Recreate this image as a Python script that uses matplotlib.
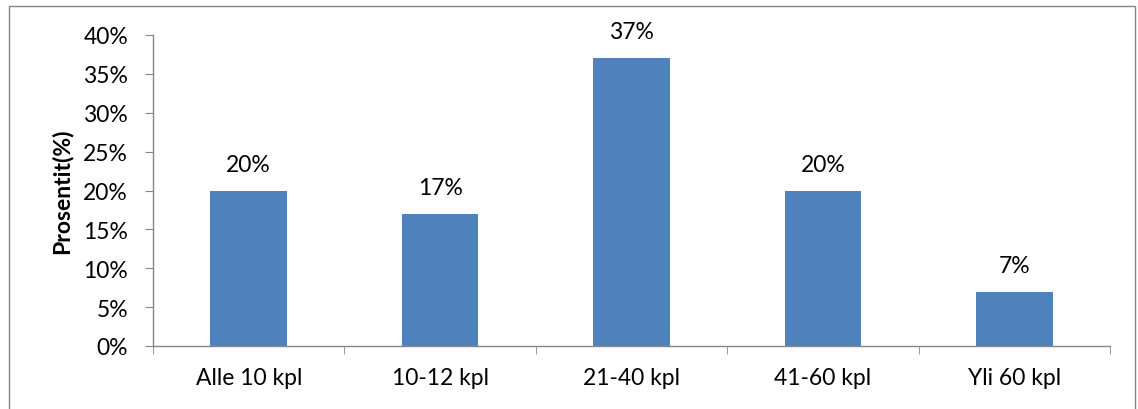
import matplotlib.pyplot as plt
from matplotlib.patches import Rectangle
from matplotlib.ticker import FixedLocator, PercentFormatter

categories = ["Alle 10 kpl", "10-12 kpl", "21-40 kpl", "41-60 kpl", "Yli 60 kpl"]
values = [20, 17, 37, 20, 7]
y_label = "Prosentit(%)"

BAR_COLOR = "#4F81BD"
AXIS_COLOR = "#868686"
FS = 16.5

plt.rcParams["font.family"] = ["Lato", "DejaVu Sans"]

fig = plt.figure(figsize=(11.38, 4.10), dpi=100)
ax = fig.add_axes([153 / 1138, 63 / 410, (1110 - 153) / 1138, (347 - 36) / 410])

x = list(range(len(categories)))
ax.bar(x, values, width=0.4, color=BAR_COLOR, zorder=2)

for xi, v in zip(x, values):
    ax.text(xi, v + 3.4, f"{v}%", ha="center", va="center", fontsize=FS, color="black")

ax.set_xlim(-0.5, len(categories) - 0.5)
ax.set_ylim(0, 40)
ax.set_yticks(range(0, 41, 5))
ax.yaxis.set_major_formatter(PercentFormatter(decimals=0))

# category labels in the middle, tick marks on the boundaries
ax.set_xticks(x)
ax.set_xticklabels(categories, fontsize=FS)
ax.tick_params(axis="x", which="major", length=0, pad=15)
ax.xaxis.set_minor_locator(FixedLocator([i - 0.5 for i in range(len(categories) + 1)]))
ax.tick_params(axis="x", which="minor", length=6, color=AXIS_COLOR, direction="out")
ax.tick_params(axis="y", length=6, color=AXIS_COLOR, labelsize=FS, pad=12)

for side in ("top", "right"):
    ax.spines[side].set_visible(False)
for side in ("left", "bottom"):
    ax.spines[side].set_color(AXIS_COLOR)
    ax.spines[side].set_linewidth(1.0)

ax.set_ylabel(y_label, fontsize=FS, fontweight="bold", labelpad=8)

# chart border (bottom edge runs past the image)
fig.patches.append(Rectangle((9 / 1138, -0.05), 1126 / 1138, 1.05 - 7 / 410,
                             transform=fig.transFigure, fill=False,
                             edgecolor=AXIS_COLOR, linewidth=1.0))

fig.savefig("out.png", dpi=100)
